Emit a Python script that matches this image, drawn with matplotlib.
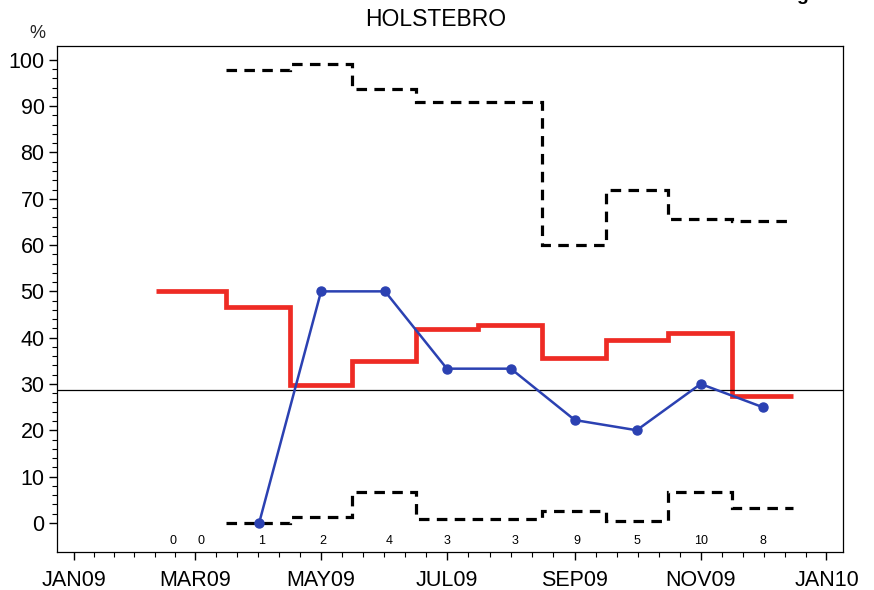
import matplotlib
matplotlib.use("Agg")
import matplotlib.pyplot as plt
import matplotlib.dates as mdates
import numpy as np

# step edges (dates) and levels
red_edges = ["2009-02-10", "2009-03-16", "2009-04-16", "2009-05-16", "2009-06-16", "2009-07-16",
             "2009-08-16", "2009-09-16", "2009-10-16", "2009-11-16", "2009-12-16"]
red_vals = [50, 46.6, 29.8, 35.0, 41.8, 42.8, 35.5, 39.5, 41.0, 27.4]

band_edges = ["2009-03-16", "2009-04-16", "2009-05-16", "2009-06-16", "2009-07-16",
              "2009-08-16", "2009-09-16", "2009-10-16", "2009-11-16", "2009-12-16"]
upper_vals = [97.8, 99.2, 93.8, 91.0, 91.0, 60.1, 72.0, 65.7, 65.2]
lower_vals = [0.0, 1.2, 6.6, 0.8, 0.8, 2.6, 0.4, 6.6, 3.1]

blue_dates = ["2009-04-01", "2009-05-01", "2009-06-01", "2009-07-01", "2009-08-01",
              "2009-09-01", "2009-10-01", "2009-11-01", "2009-12-01"]
blue_vals = [0.0, 50.0, 50.0, 33.3, 33.3, 22.2, 20.0, 30.0, 25.0]

count_dates = ["2009-02-18", "2009-03-04", "2009-04-02", "2009-05-02", "2009-06-03", "2009-07-01",
               "2009-08-03", "2009-09-02", "2009-10-01", "2009-11-01", "2009-12-01"]
counts = [0, 0, 1, 2, 4, 3, 3, 9, 5, 10, 8]

mean_level = 28.6

major_dates = ["2009-01-01", "2009-03-01", "2009-05-01", "2009-07-01", "2009-09-01", "2009-11-01", "2010-01-01"]
major_labels = ["JAN09", "MAR09", "MAY09", "JUL09", "SEP09", "NOV09", "JAN10"]


def dnum(seq):
    return mdates.date2num(np.array(seq, dtype="datetime64[D]"))


plt.rcParams.update({"font.family": ["Liberation Sans", "DejaVu Sans"], "font.size": 15})

fig = plt.figure(figsize=(8.74, 5.9), dpi=100)
ax = fig.add_axes([57 / 874, 1 - 552 / 590, (843 - 57) / 874, (552 - 46) / 590])

dash = (0, (3.3, 2.3))
ax.stairs(upper_vals, dnum(band_edges), baseline=None, color="black", linewidth=2.3, linestyle=dash)
ax.stairs(lower_vals, dnum(band_edges), baseline=None, color="black", linewidth=2.3, linestyle=dash)
ax.stairs(red_vals, dnum(red_edges), baseline=None, color="#ee2b24", linewidth=3.4)
ax.axhline(mean_level, color="black", linewidth=0.9)
ax.plot(dnum(blue_dates), blue_vals, "o-", color="#2b41b2", linewidth=1.8, markersize=6.5)

for d, c in zip(dnum(count_dates), counts):
    ax.text(d, -3.9, str(c), ha="center", va="center", fontsize=9)

majors = dnum(major_dates)
ax.set_xticks(majors, major_labels)
minors = []
for a, b in zip(majors[:-1], majors[1:]):
    minors.extend(np.linspace(a, b, 7)[1:-1])
ax.set_xticks(minors, minor=True)
ax.set_xlim(dnum(["2008-12-24"])[0], dnum(["2010-01-09"])[0])

ax.set_ylim(-6.3, 103.0)
ax.set_yticks(np.arange(0, 101, 10))
ax.set_yticks(np.arange(0, 101, 2), minor=True)

ax.tick_params(axis="both", which="major", direction="out", length=6, width=1, labelsize=15.5)
ax.tick_params(axis="both", which="minor", direction="out", length=3.5, width=0.8)
ax.tick_params(axis="x", pad=7)
ax.tick_params(axis="y", pad=3)
for s in ax.spines.values():
    s.set_linewidth(0.9)

fig.text(37 / 874, 1 - 34 / 590, "%", ha="center", va="center", fontsize=13, color="#222222")
fig.text(436 / 874, 1 - 20 / 590, "HOLSTEBRO", ha="center", va="center", fontsize=16.5)
# descender of a cropped heading glyph, as in the source image
fig.text(802 / 874, 1.0, "g", ha="center", va="baseline", fontsize=14, fontweight="bold")

fig.savefig("out.png", dpi=100)
